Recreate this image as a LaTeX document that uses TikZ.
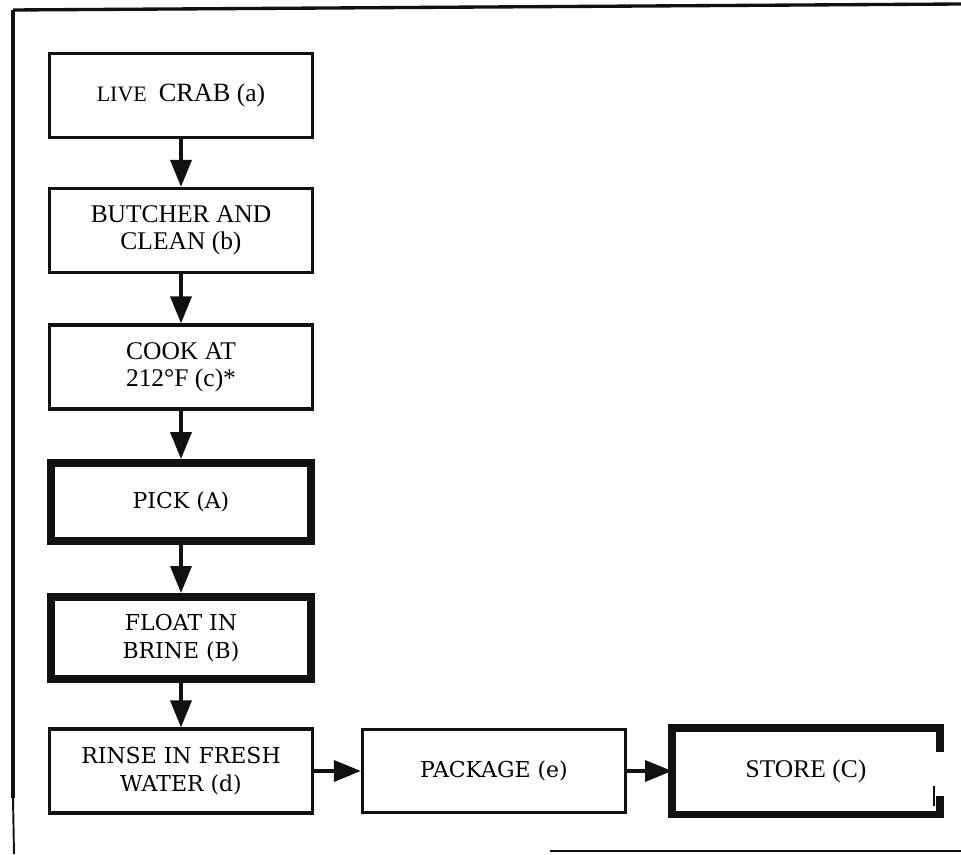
\documentclass[tikz,border=0pt]{standalone}
\usepackage{fontspec}
\setmainfont{Liberation Serif}
\newfontfamily\bookface{DejaVu Serif}
\usetikzlibrary{arrows.meta}
\definecolor{CRInk}{HTML}{111111}

\begin{document}
\begin{tikzpicture}[x=1cm,y=1cm,
  stepbox/.style={draw=CRInk,line width=1.8pt,minimum width=5.26cm,minimum height=1.68cm,inner sep=0pt,align=center},
  heavybox/.style={stepbox,line width=4.5pt,minimum width=5.20cm,minimum height=1.58cm},
  romanface/.style={font=\fontsize{14.5}{15.5}\selectfont},
  schoolface/.style={font=\bookface\fontsize{12.5}{15.5}\selectfont},
  flow/.style={draw=CRInk,line width=2pt,-{Triangle[width=0.42cm,length=0.54cm]}}]
\path[use as bounding box] (0,0) rectangle (19.22,17.08);
% frame of the page, open at the right
\coordinate (ftl) at (0.26,16.88);
\coordinate (ftr) at (19.22,17.00);
\coordinate (fbl) at (0.26,1.12);
\coordinate (fbb) at (0.28,0);
\coordinate (fbs) at (11.00,0.06);
\coordinate (fbe) at (19.22,0.06);
\draw[CRInk,line width=1.9pt] (ftl) -- (ftr);
\draw[CRInk,line width=2.3pt] (ftl) -- (fbl);
\draw[CRInk,line width=1.1pt] (fbl) -- (fbb);
\draw[CRInk,line width=1.3pt] (fbs) -- (fbe);
% column of steps
\node[stepbox,romanface] (crab) at (3.62,15.17) {{\fontsize{12.5}{13}\selectfont LIVE}\hspace{0.24cm}{\fontsize{15}{16}\selectfont CRAB} (a)};
\node[stepbox,romanface] (butcher) at (3.62,12.47) {BUTCHER AND\\CLEAN (b)};
\node[stepbox,romanface] (cook) at (3.62,9.74) {COOK AT\\212°F (c)*};
\node[heavybox,schoolface,minimum height=1.56cm] (pick) at (3.62,7.04) {PICK (A)};
\node[heavybox,schoolface,minimum height=1.64cm] (float) at (3.62,4.32) {FLOAT IN\\BRINE (B)};
\node[stepbox,schoolface] (rinse) at (3.62,1.66) {RINSE IN FRESH\\WATER (d)};
% bottom row
\node[stepbox,schoolface,minimum height=1.66cm] (package) at (9.88,1.66) {PACKAGE (e)};
\node[heavybox,romanface,draw=none] (store) at (16.12,1.66) {STORE (C)};
\draw[CRInk,line width=4.5pt] ([yshift=-0.48cm]store.north east) -- (store.north east) -- (store.north west) -- (store.south west) -- (store.south east) -- ([yshift=0.36cm]store.south east);
\draw[CRInk,line width=1.1pt] ([xshift=-0.12cm,yshift=0.16cm]store.south east) -- ++(0,0.40cm);
% arrows
\draw[flow] (crab) -- (butcher);
\draw[flow] (butcher) -- (cook);
\draw[flow] (cook) -- (pick);
\draw[flow] (pick) -- (float);
\draw[flow] (float) -- (rinse);
\draw[flow] (rinse) -- (package);
\draw[flow] (package) -- (store);
\end{tikzpicture}
\end{document}
